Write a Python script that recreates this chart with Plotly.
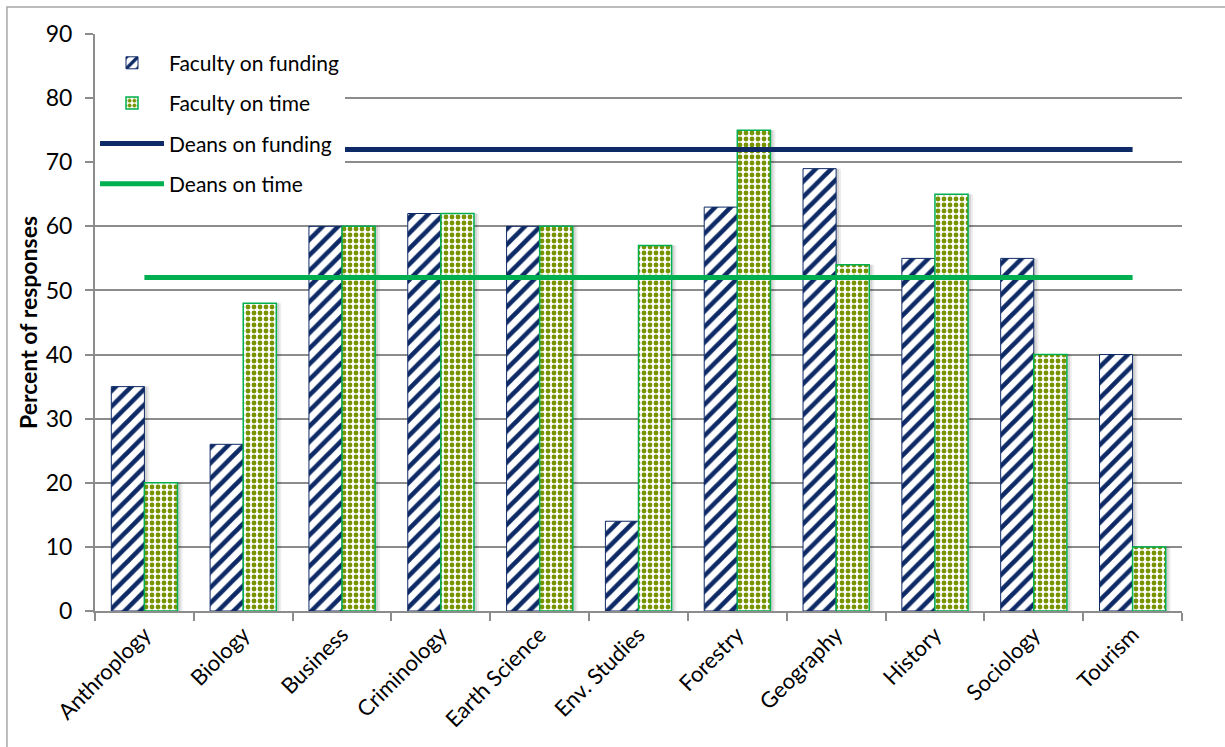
import plotly.graph_objects as go

# Survey results by department
departments = ["Anthroplogy", "Biology", "Business", "Criminology", "Earth Science",
               "Env. Studies", "Forestry", "Geography", "History", "Sociology", "Tourism"]
faculty_funding = [35, 26, 60, 62, 60, 14, 63, 69, 55, 55, 40]
faculty_time = [20, 48, 60, 62, 60, 57, 75, 54, 65, 40, 10]
deans_funding = 72
deans_time = 52

NAVY = "#0E2A66"
OLIVE = "#779300"
GREEN = "#00B050"
FONT = "Lato"

BAR_W = 0.335
fig = go.Figure()

# soft drop shadows to the right of each bar
for vals, off in ((faculty_funding, -BAR_W), (faculty_time, 0.0)):
    for shift, alpha in ((0.05, 0.07), (0.03, 0.10)):
        fig.add_trace(go.Bar(
            x=departments, y=vals, width=BAR_W, offset=off + shift, opacity=1,
            marker=dict(color=f"rgba(0,0,0,{alpha})", line=dict(width=0)),
            showlegend=False, hoverinfo="skip"))

fig.add_trace(go.Bar(
    name="Faculty on funding", x=departments, y=faculty_funding,
    width=BAR_W, offset=-BAR_W, legendgroup="a", opacity=1,
    marker=dict(color="white", opacity=1,
                line=dict(color=NAVY, width=1),
                pattern=dict(shape="/", fgcolor=NAVY, bgcolor="white",
                             fgopacity=1, size=11, solidity=0.42))))
fig.add_trace(go.Bar(
    name="Faculty on time", x=departments, y=faculty_time,
    width=BAR_W, offset=0.0, legendgroup="b", opacity=1,
    marker=dict(color="white", opacity=1,
                line=dict(color=GREEN, width=1.5),
                pattern=dict(shape=".", fgcolor=OLIVE, bgcolor="white",
                             fgopacity=1, size=6, solidity=0.5))))
fig.add_trace(go.Scatter(
    name="Deans on funding", x=departments, y=[deans_funding] * len(departments),
    mode="lines", line=dict(color=NAVY, width=5), legendgroup="c"))
fig.add_trace(go.Scatter(
    name="Deans on time", x=departments, y=[deans_time] * len(departments),
    mode="lines", line=dict(color=GREEN, width=5), legendgroup="d"))

# outer chart frame
fig.add_shape(type="rect", xref="paper", yref="paper",
              x0=-0.081, x1=1.2, y0=-0.6, y1=1.0468,
              line=dict(color="#A6A6A6", width=1.5), fillcolor="rgba(0,0,0,0)",
              layer="below")

fig.update_layout(
    width=1225, height=747,
    margin=dict(l=95, r=43, t=34, b=136),
    paper_bgcolor="white", plot_bgcolor="white",
    barmode="overlay",
    font=dict(family=FONT, size=20, color="black"),
    showlegend=True,
    legend=dict(x=0.0, y=0.985, xanchor="left", yanchor="top",
                bgcolor="white", borderwidth=0,
                font=dict(family=FONT, size=21, color="black"),
                tracegroupgap=10, traceorder="grouped",
                itemwidth=64),
    xaxis=dict(
        type="category", tickson="boundaries", ticks="outside", ticklen=8,
        tickcolor="#8C8C8C", tickwidth=2,
        showline=True, linecolor="#8C8C8C", linewidth=2,
        tickangle=-45, tickfont=dict(family=FONT, size=22),
        showgrid=False, range=[-0.5, 10.5]),
    yaxis=dict(
        range=[0, 90], dtick=10, ticks="outside", ticklen=8,
        tickcolor="#8C8C8C", tickwidth=2,
        showline=True, linecolor="#8C8C8C", linewidth=2,
        showgrid=True, gridcolor="#8C8C8C", gridwidth=2,
        zeroline=False,
        tickfont=dict(family=FONT, size=23),
        ticklabelstandoff=8,
        title=dict(text="<b>Percent of responses</b>", font=dict(family=FONT, size=23),
                   standoff=2)),
)

fig.write_html("out.html")
